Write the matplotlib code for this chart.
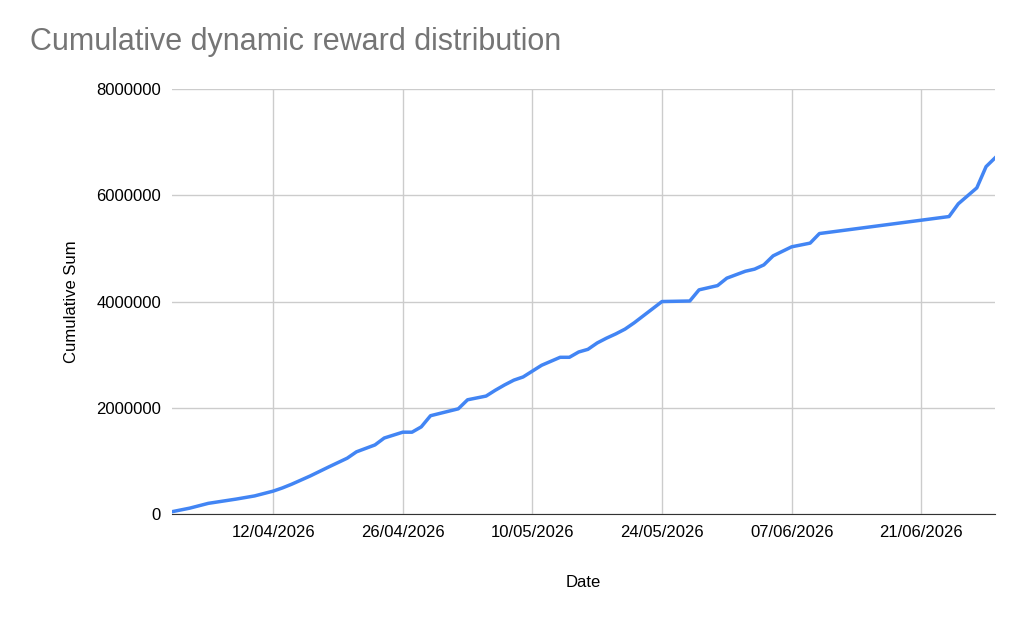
import matplotlib
matplotlib.use("Agg")
import matplotlib.pyplot as plt
import pandas as pd

plt.rcParams['font.family'] = ['Liberation Sans', 'DejaVu Sans']

dates = ["01/04","03/04","05/04","08/04","10/04","12/04","13/04","14/04","16/04","18/04",
         "20/04","21/04","23/04","24/04","26/04","27/04","28/04","29/04","02/05","03/05",
         "05/05","06/05","07/05","08/05","09/05","10/05","11/05","13/05","14/05","15/05",
         "16/05","17/05","18/05","19/05","20/05","21/05","24/05","27/05","28/05","30/05",
         "31/05","02/06","03/06","04/06","05/06","07/06","09/06","10/06","24/06","25/06",
         "27/06","28/06","29/06"]
cumsum_m = [0.04,0.11,0.20,0.28,0.34,0.43,0.49,0.56,0.715,0.885,
            1.05,1.17,1.30,1.43,1.54,1.54,1.64,1.85,1.98,2.15,
            2.22,2.33,2.43,2.52,2.58,2.69,2.80,2.95,2.95,3.05,
            3.10,3.22,3.31,3.39,3.48,3.60,4.00,4.01,4.22,4.30,
            4.44,4.57,4.61,4.69,4.86,5.03,5.10,5.28,5.60,5.84,
            6.14,6.54,6.71]
tick_dates = ["12/04","26/04","10/05","24/05","07/06","21/06"]

def to_dt(s):
    return pd.to_datetime(s + "/2026", format="%d/%m/%Y")

x = [to_dt(d) for d in dates]
y = [v * 1e6 for v in cumsum_m]

fig = plt.figure(figsize=(10.24, 6.23), dpi=100)
ax = fig.add_axes([0.168, 0.175, 0.804, 0.682])
ax.plot(x, y, color="#4285F4", lw=2.5, zorder=3)
ax.set_xlim(pd.Timestamp("2026-04-01 02:00"), pd.Timestamp("2026-06-29 00:00"))
ax.set_ylim(0, 8000000)
ax.set_yticks([0, 2000000, 4000000, 6000000, 8000000])
ax.set_yticklabels(["0", "2000000", "4000000", "6000000", "8000000"])
ax.set_xticks([to_dt(t) for t in tick_dates])
ax.set_xticklabels([t + "/2026" for t in tick_dates])
ax.grid(True, color="#cccccc", lw=1)
ax.set_axisbelow(True)
for s in ["top", "right", "left"]:
    ax.spines[s].set_visible(False)
ax.spines["bottom"].set_color("#333333")
ax.tick_params(length=0, labelsize=12, pad=8)
ax.set_xlabel("Date", fontsize=12, labelpad=25)
ax.set_ylabel("Cumulative Sum", fontsize=12, labelpad=12)
fig.text(0.029, 0.932, "Cumulative dynamic reward distribution", fontsize=22, color="#757575", va="center")
fig.savefig("out.png", dpi=100)
